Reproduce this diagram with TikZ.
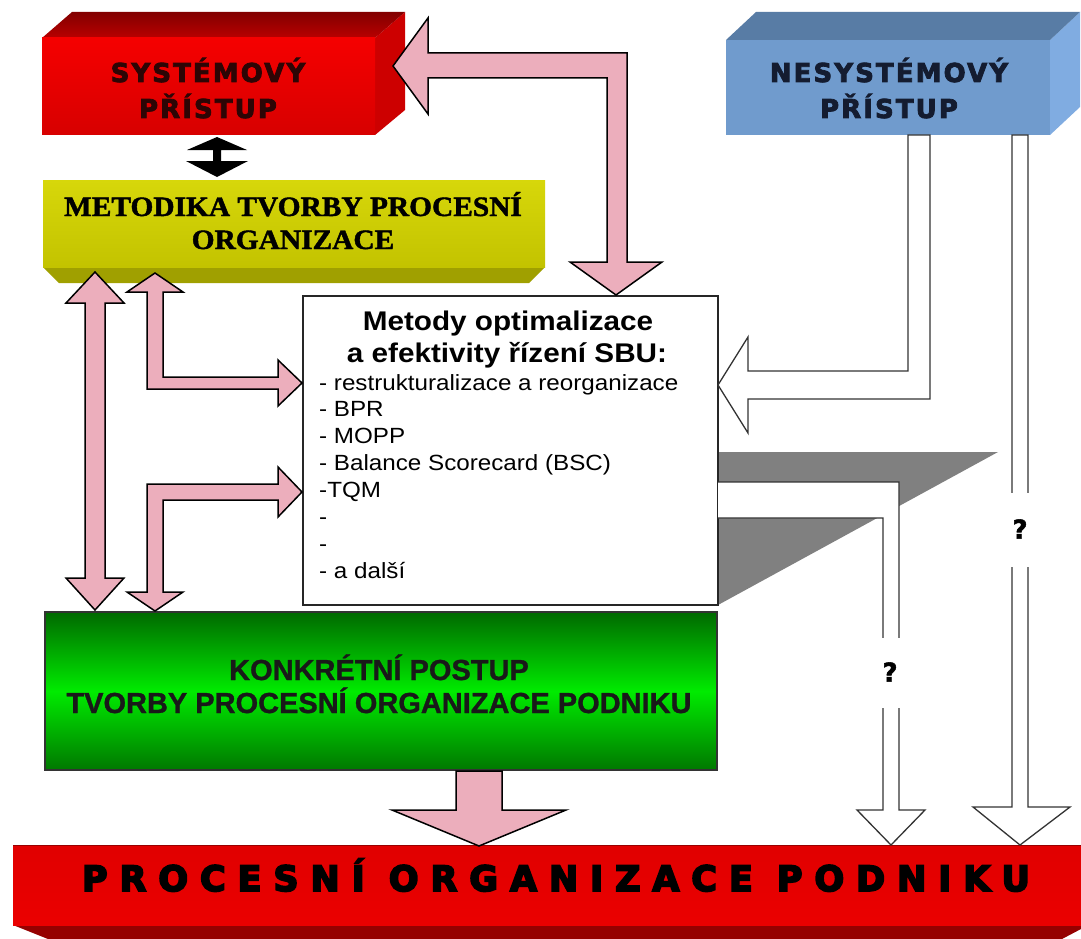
\documentclass[tikz,border=0pt]{standalone}
\usepackage{graphicx}
\usepackage{fontspec}
\setmainfont{Liberation Sans}
\newfontfamily\blockfont[FakeBold=3,LetterSpace=8]{DejaVu Sans Bold}
\newfontfamily\barfont[FakeBold=5,LetterSpace=34]{DejaVu Sans Bold}
\newfontfamily\serifhead[FakeBold=1.5]{Liberation Serif Bold}
\newfontfamily\greenfont[FakeBold=1]{Liberation Sans Bold}
\newfontfamily\markfont[FakeBold=2]{DejaVu Sans Bold}

\definecolor{pinkfill}{RGB}{236,174,188}
\definecolor{redfrontA}{RGB}{245,0,0}
\definecolor{redfrontB}{RGB}{215,0,0}
\definecolor{redtopA}{RGB}{130,0,0}
\definecolor{redtopB}{RGB}{185,0,0}
\definecolor{redside}{RGB}{205,0,0}
\definecolor{bluefront}{RGB}{112,155,205}
\definecolor{bluetop}{RGB}{88,124,165}
\definecolor{blueside}{RGB}{128,172,225}
\definecolor{yellowfrontA}{RGB}{215,215,10}
\definecolor{yellowfrontB}{RGB}{195,195,0}
\definecolor{yellowbottom}{RGB}{160,160,0}
\definecolor{greenlight}{RGB}{0,235,0}
\definecolor{greendark}{RGB}{0,105,0}
\definecolor{shadowgrey}{RGB}{128,128,128}
\definecolor{redtext}{RGB}{45,5,5}
\definecolor{bluetext}{RGB}{20,28,48}
\definecolor{bardark}{RGB}{150,0,0}

\tikzset{
  pinkarrow/.style={fill=pinkfill,draw=black,line width=1.5pt,line join=miter},
  hollowarrow/.style={fill=white,draw=black!80,line width=1.3pt,line join=miter},
  blocktext/.style={anchor=base,inner sep=0pt,font=\blockfont\fontsize{26}{30}\selectfont},
  yellowtext/.style={anchor=base,inner sep=0pt,text=black,font=\serifhead\fontsize{28}{30}\selectfont},
  headtext/.style={anchor=base,inner sep=0pt,font=\bfseries\fontsize{27}{30}\selectfont},
  listtext/.style={anchor=base west,inner sep=0pt,font=\fontsize{22}{26}\selectfont},
  greentext/.style={anchor=base,inner sep=0pt,text=black!90,font=\greenfont\fontsize{29}{32}\selectfont},
  qmark/.style={inner sep=1pt,font=\markfont\fontsize{26}{28}\selectfont}
}

\begin{document}
\begin{tikzpicture}[x=1pt,y=-1pt]
\useasboundingbox (0,0) rectangle (1081,939);
\fill[white] (0,0) rectangle (1081,939);

% shadow behind the methods box
\fill[shadowgrey] (718,452) -- (998,452) -- (718,605) -- cycle;

% systemic approach: red block
\fill[redside] (375,38) -- (405,12) -- (405,110) -- (375,135) -- cycle;
\shade[top color=redtopA,bottom color=redtopB] (42,38) -- (72,12) -- (405,12) -- (375,38) -- cycle;
\shade[top color=redfrontA,bottom color=redfrontB] (42,38) rectangle (375,135);
\node[blocktext,text=redtext] (sys1) at (208,82) {SYSTÉMOVÝ};
\node[blocktext,text=redtext] (sys2) at (208,118) {PŘÍSTUP};

% non-systemic approach: blue block
\fill[blueside] (1050,40) -- (1080,12) -- (1080,107) -- (1050,135) -- cycle;
\fill[bluetop] (726,40) -- (756,12) -- (1080,12) -- (1050,40) -- cycle;
\fill[bluefront] (726,40) rectangle (1050,135);
\node[blocktext,text=bluetext] (nsys1) at (889,82) {NESYSTÉMOVÝ};
\node[blocktext,text=bluetext] (nsys2) at (889,118) {PŘÍSTUP};

% methodology: yellow block
\fill[yellowbottom] (43,267) -- (545,267) -- (529,283) -- (59,283) -- cycle;
\shade[top color=yellowfrontA,bottom color=yellowfrontB] (43,180) rectangle (545,267);
\node[yellowtext] (met1) at (293,216) {\scalebox{1.05}[1]{METODIKA TVORBY PROCESNÍ}};
\node[yellowtext] (met2) at (293,249) {\scalebox{1.05}[1]{ORGANIZACE}};

% small black double arrow between red and yellow blocks
\fill[black] (217,137) -- (247,150) -- (221,150) -- (221,161) -- (248,161) -- (217,177)
  -- (186,161) -- (213,161) -- (213,150) -- (187,150) -- cycle;

% methods box
\draw[fill=white,line width=1.5pt,draw=black!85] (303,296) rectangle (718,605);
\node[headtext] (mh1) at (508,330) {\scalebox{1.1}[1]{Metody optimalizace}};
\node[headtext] (mh2) at (507,362) {\scalebox{1.1}[1]{a efektivity řízení SBU:}};
\foreach \t [count=\i from 0] in {{- restrukturalizace a reorganizace},{- BPR},{- MOPP},{-  Balance Scorecard (BSC)},{-TQM},{-},{-},{- a další}}
  \node[listtext] (li\i) at (319,390+26.9*\i) {\scalebox{1.1}[1]{\t}};

% concrete procedure: green block
\shade[top color=greendark,bottom color=greendark!90!green,middle color=greenlight,draw=black!80,line width=1.3pt] (45,612) rectangle (717,770);
\node[greentext] (gr1) at (379,680) {KONKRÉTNÍ POSTUP};
\node[greentext] (gr2) at (379,713) {TVORBY PROCESNÍ ORGANIZACE PODNIKU};

% result bar
\fill[bardark] (13,925) -- (1081,925) -- (1081,929) -- (1062,939) -- (48,939) -- cycle;
\shade[top color=red!88!black,bottom color=red!92!black] (13,845) rectangle (1081,925);
\draw[red!60!black,line width=1pt] (13,845.5) -- (1081,845.5);
\node[anchor=base,inner sep=0pt,text=black,font=\barfont\fontsize{35}{38}\selectfont] (bar) at (556,891) {PROCESNÍ ORGANIZACE PODNIKU};

% pink block arrows
\draw[pinkarrow] (393,66) -- (428,18) -- (428,53) -- (627,53) -- (627,262) -- (662,262) -- (616,295)
  -- (570,262) -- (607,262) -- (607,78) -- (428,78) -- (428,114) -- cycle;
\draw[pinkarrow] (95,272) -- (124,303) -- (105,303) -- (105,578) -- (124,578) -- (95,610)
  -- (66,578) -- (85,578) -- (85,303) -- (66,303) -- cycle;
\draw[pinkarrow] (155,273) -- (183,292) -- (163,292) -- (163,377) -- (278,377) -- (278,360) -- (302,383)
  -- (278,406) -- (278,389) -- (147,389) -- (147,292) -- (127,292) -- cycle;
\draw[pinkarrow] (302,492) -- (278,517) -- (278,500) -- (163,500) -- (163,592) -- (183,592) -- (155,611)
  -- (127,592) -- (147,592) -- (147,484) -- (278,484) -- (278,467) -- cycle;
\draw[pinkarrow] (456,771) -- (502,771) -- (502,810) -- (566,810) -- (479,846) -- (392,810) -- (456,810) -- cycle;

% hollow arrows from the non-systemic approach
\draw[hollowarrow] (908,135) -- (930,135) -- (930,399) -- (748,399) -- (748,433) -- (718,385)
  -- (748,337) -- (748,371) -- (908,371) -- cycle;
\draw[hollowarrow] (1012,135) -- (1028,135) -- (1028,807) -- (1070,807) -- (1020,845)
  -- (973,807) -- (1012,807) -- cycle;
\draw[hollowarrow] (718,482) -- (899,482) -- (899,810) -- (925,810) -- (891,845) -- (857,810)
  -- (883,810) -- (883,518) -- (718,518);
\fill[white] (876,638) rectangle (906,708);
\fill[white] (1005,493) rectangle (1035,567);
\node[qmark] (q1) at (890,672) {?};
\node[qmark] (q2) at (1020,529) {?};
\end{tikzpicture}
\end{document}
